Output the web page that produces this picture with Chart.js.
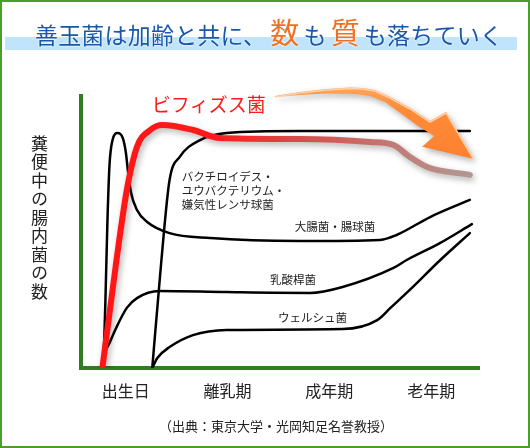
<!DOCTYPE html>
<html lang="ja">
<head>
<meta charset="utf-8">
<script src="https://cdn.jsdelivr.net/npm/chart.js@4"></script>
<style>
  body { margin: 0; background: #fff; }
  .wrap { position: relative; width: 530px; height: 448px; overflow: hidden;
    font-family: "Noto Sans CJK JP", "Noto Sans", sans-serif; color: #222; }
  canvas { position: absolute; left: 0; top: 0; }
  .frame { position: absolute; inset: 0; border: 2px solid #4a9e2a; box-sizing: border-box; pointer-events: none; }
  .band { position: absolute; left: 5px; top: 37px; width: 512px; height: 13px; background: #c0e4fc; }
  .title { position: absolute; left: 8px; width: 522px; top: 14px; text-align: center;
    font-size: 23px; line-height: 34px; color: #1858aa; letter-spacing: 0.2px; white-space: nowrap;
    text-shadow: 0 0 2px #fff, 0 0 2px #fff; }
  .title .em { color: #f07020; font-size: 29px; margin: 0 4px; }
  .ylabel { position: absolute; left: 29px; top: 135px; writing-mode: vertical-rl;
    font-size: 17px; letter-spacing: 1.5px; line-height: 20px; }
  .source { position: absolute; left: 0; width: 552px; top: 416px; text-align: center; font-size: 13px; }
</style>
</head>
<body>
<div class="wrap">
  <canvas id="chart" width="530" height="448"></canvas>
  <div class="band"></div>
  <div class="title">善玉菌は加齢と共に、<span class="em">数</span>も<span class="em">質</span>も落ちていく</div>
  <div class="ylabel">糞便中の腸内菌の数</div>
  <div class="source">（出典：東京大学・光岡知足名誉教授）</div>
  <div class="frame"></div>
</div>
<script>
// life stages on the x axis (1 unit = one stage)
const stageTicks = [0, 1, 2, 3];
const stageLabels = ["出生日", "離乳期", "成年期", "老年期"];

// relative number of bacteria, 0..100
const bifidusX = [-0.23, -0.09, 0.01, 0.11, 0.24, 0.36, 0.66, 0.92, 1.71, 2.4, 2.63, 2.79, 2.96, 3.38];
const bifidusY = [0, 40, 65.4, 81.3, 87.5, 89.3, 87.5, 84.6, 84.2, 83.1, 82.0, 77.6, 73.9, 71.0];

const bacteroidesX = [0.26, 0.35, 0.43, 0.53, 0.73, 0.99, 1.71, 3.38];
const bacteroidesY = [0, 39.7, 69.1, 77.6, 83.8, 86.4, 87.1, 87.1];

const ecoliX = [-0.22, -0.2, -0.18, -0.16, -0.13, -0.08, -0.03, 0.0, 0.02, 0.05, 0.11, 0.21, 0.43, 0.83, 1.71, 2.5, 2.66, 2.99, 3.38];
const ecoliY = [0, 25, 54.4, 74.6, 83.8, 86.4, 84.6, 79.4, 72.8, 64.7, 58.1, 53.7, 49.6, 47.8, 46.7, 47.1, 48.9, 55.5, 61.8];

const lactoX = [-0.23, -0.21, -0.16, -0.09, 0.01, 0.11, 0.33, 0.99, 1.81, 2.13, 2.63, 2.76, 3.09, 3.4];
const lactoY = [0, 4.8, 9.2, 15.1, 22.1, 25.7, 28.3, 27.9, 27.6, 29.8, 36.8, 39.7, 46.0, 52.9];

const welchiiX = [0.26, 0.31, 0.43, 0.66, 0.99, 2.13, 2.47, 2.6, 2.79, 3.09, 3.38];
const welchiiY = [0, 3.7, 7.7, 12.1, 14.0, 14.3, 17.6, 22.1, 28.7, 39.7, 49.6];

// downward trend arrow outline (data units); first 9 points are the upper edge
const arrowX = [1.465, 1.711, 1.976, 2.203, 2.33, 2.448, 2.596, 2.793, 2.989, 3.147, 3.422, 2.911, 3.029, 2.871, 2.694, 2.547, 2.399, 2.252, 1.976, 1.711, 1.465];
const arrowY = [100.0, 101.5, 102.6, 103.1, 102.9, 102.2, 99.6, 95.6, 90.8, 94.1, 76.8, 81.3, 85.3, 89.0, 93.8, 97.8, 100.0, 100.7, 100.9, 100.4, 99.6];

const zip = (xs, ys) => xs.map((x, i) => ({ x: x, y: ys[i] }));

const curveLabels = [
  { text: ["ビフィズス菌"], x: 0.256, y: 96.7, size: 19, color: "#ff1a1a" },
  { text: ["バクチロイデス・", "ユウバクテリウム・", "嫌気性レンサ球菌"], x: 0.55, y: 70.2, size: 11.5, color: "#222" },
  { text: ["大腸菌・腸球菌"], x: 1.66, y: 51.8, size: 11.5, color: "#222" },
  { text: ["乳酸桿菌"], x: 1.416, y: 32.4, size: 11.5, color: "#222" },
  { text: ["ウェルシュ菌"], x: 1.495, y: 18.4, size: 11.5, color: "#222" },
];

const FONT = '"Noto Sans CJK JP", "Noto Sans", sans-serif';

const redGradient = (context) => {
  const chart = context.chart;
  const area = chart.chartArea;
  if (!area) return "#ff1a1a";
  const g = chart.ctx.createLinearGradient(area.left, 0, area.right, 0);
  g.addColorStop(0, "#ff1414");
  g.addColorStop(0.33, "#ff1a1a");
  g.addColorStop(0.55, "#d84c4c");
  g.addColorStop(0.78, "#c27a74");
  g.addColorStop(1, "#ae9c96");
  return g;
};

const decorations = {
  id: "decorations",
  beforeDatasetDraw(chart, args) {
    if (args.index === 0) {
      const c = chart.ctx;
      c.save();
      c.shadowColor = "rgba(0,0,0,0.3)";
      c.shadowBlur = 6;
      c.shadowOffsetX = 2;
      c.shadowOffsetY = 3;
    }
  },
  afterDatasetDraw(chart, args) {
    if (args.index === 0) chart.ctx.restore();
  },
  afterDatasetsDraw(chart) {
    const c = chart.ctx;
    const xs = chart.scales.x, ys = chart.scales.y;
    const pt = (i) => [xs.getPixelForValue(arrowX[i]), ys.getPixelForValue(arrowY[i])];

    // arrow
    c.save();
    c.beginPath();
    arrowX.forEach((v, i) => {
      const [px, py] = pt(i);
      if (i === 0) c.moveTo(px, py); else c.lineTo(px, py);
    });
    c.closePath();
    const g = c.createLinearGradient(0, ys.getPixelForValue(104), 0, ys.getPixelForValue(76));
    g.addColorStop(0, "#ffa860");
    g.addColorStop(0.3, "#ff8c38");
    g.addColorStop(1, "#ff8030");
    c.shadowColor = "rgba(0,0,0,0.3)";
    c.shadowBlur = 6;
    c.shadowOffsetX = 2;
    c.shadowOffsetY = 3;
    c.fillStyle = g;
    c.lineJoin = "round";
    c.fill();
    c.shadowColor = "transparent";
    // highlight on upper edge
    c.beginPath();
    for (let i = 0; i <= 10; i++) {
      const [px, py] = pt(i);
      if (i === 0) c.moveTo(px, py + 1); else c.lineTo(px, py + 1);
    }
    c.strokeStyle = "rgba(255,215,180,0.9)";
    c.lineWidth = 1.5;
    c.stroke();
    c.restore();

    // curve labels
    c.save();
    c.textBaseline = "middle";
    c.textAlign = "left";
    curveLabels.forEach((l) => {
      c.font = l.size + "px " + FONT;
      c.fillStyle = l.color;
      const px = xs.getPixelForValue(l.x);
      l.text.forEach((t, i) => {
        c.fillText(t, px, ys.getPixelForValue(l.y) + i * 14);
      });
    });
    c.restore();
  },
};

const lineStyle = (data, color, width) => ({
  data: data,
  borderColor: color,
  borderWidth: width,
  pointRadius: 0,
  cubicInterpolationMode: "monotone",
  fill: false,
  borderCapStyle: "round",
  borderJoinStyle: "round",
});

new Chart(document.getElementById("chart").getContext("2d"), {
  type: "line",
  data: {
    datasets: [
      lineStyle(zip(bifidusX, bifidusY), redGradient, 6),
      lineStyle(zip(bacteroidesX, bacteroidesY), "#000", 2.5),
      lineStyle(zip(ecoliX, ecoliY), "#000", 2.5),
      lineStyle(zip(lactoX, lactoY), "#000", 2.5),
      lineStyle(zip(welchiiX, welchiiY), "#000", 2.5),
    ],
  },
  options: {
    responsive: false,
    animation: false,
    layout: { padding: { left: 81, right: 51, top: 96, bottom: 0 } },
    plugins: { legend: { display: false }, tooltip: { enabled: false } },
    scales: {
      x: {
        type: "linear",
        min: -0.44,
        max: 3.47,
        grid: { display: false, drawTicks: false },
        border: { display: true, color: "#2e7d1e", width: 4 },
        afterBuildTicks: (s) => { s.ticks = stageTicks.map((v) => ({ value: v })); },
        afterFit: (s) => { s.height = 80; },
        ticks: {
          padding: 13,
          color: "#222",
          font: { size: 16, family: FONT },
          callback: (v) => stageLabels[stageTicks.indexOf(v)],
        },
      },
      y: {
        min: 0,
        max: 100,
        grid: { display: false, drawTicks: false },
        border: { display: true, color: "#2e7d1e", width: 4 },
        ticks: { display: false },
        afterFit: (s) => { s.width = 0; },
      },
    },
  },
  plugins: [decorations],
});
</script>
</body>
</html>
